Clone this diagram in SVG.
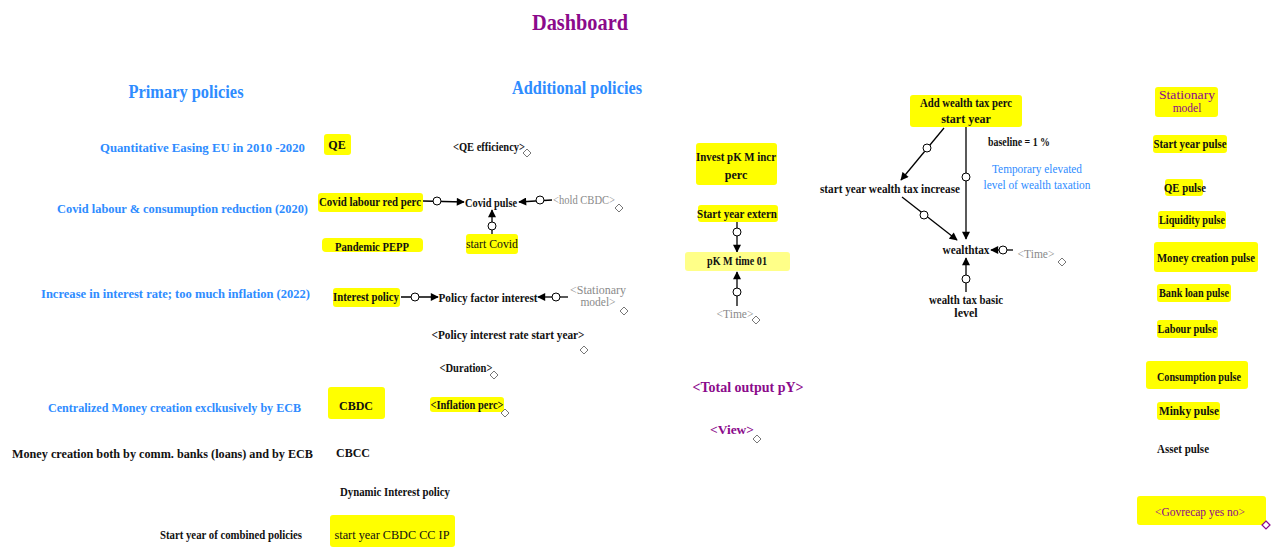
<svg xmlns="http://www.w3.org/2000/svg" xmlns:xlink="http://www.w3.org/1999/xlink" width="1275" height="547" viewBox="0 0 1275 547" font-family="'Liberation Serif', 'Times New Roman', serif">
  <style>
    text { font-family: "Liberation Serif", "Times New Roman", serif; }
    .t { font-size: 12px; font-weight: bold; fill: #111; }
    .tn { font-size: 12px; fill: #111; }
    .g { font-size: 11.5px; fill: #8a8a8a; }
    .blue { font-size: 13.5px; font-weight: bold; fill: #2e8cff; text-anchor: end; }
    .head { font-size: 18px; font-weight: bold; fill: #2e8cff; }
    .pur { font-weight: bold; fill: #8b0a8b; }
    .m { text-anchor: middle; }
    .e { text-anchor: end; }
    .box { fill: #ffff00; }
    .lbox { fill: #ffff88; }
    .ln { stroke: #000; stroke-width: 1.3; fill: none; }
    .dot { fill: #fff; stroke: #000; stroke-width: 1; }
    .dia { fill: #fff; stroke: #777; stroke-width: 1; }
  </style>
  <defs>
    <marker id="arr" viewBox="0 0 10 10" refX="9" refY="5" markerWidth="9" markerHeight="8" markerUnits="userSpaceOnUse" orient="auto">
      <path d="M0,0 L10,5 L0,10 Z" fill="#000"/>
    </marker>
    <path id="dia" d="M0,-4 L4,0 L0,4 L-4,0 Z"/>
  </defs>

  <rect width="1275" height="547" fill="#fff"/>

  <!-- headings -->
  <g id="titles">
    <text x="580" y="30" class="pur m" font-size="23" textLength="96" lengthAdjust="spacingAndGlyphs">Dashboard</text>
    <text x="186" y="98" class="head m" textLength="115" lengthAdjust="spacingAndGlyphs">Primary policies</text>
    <text x="577" y="94" class="head m" textLength="130" lengthAdjust="spacingAndGlyphs">Additional policies</text>
  </g>

  <!-- policy descriptions (right-aligned against the switch column) -->
  <g id="policy-labels">
    <text x="305" y="152" class="blue" textLength="205" lengthAdjust="spacingAndGlyphs">Quantitative Easing EU in 2010  -2020</text>
    <text x="308" y="213" class="blue" textLength="251" lengthAdjust="spacingAndGlyphs">Covid labour &amp; consumuption reduction (2020)</text>
    <text x="310" y="298" class="blue" textLength="269" lengthAdjust="spacingAndGlyphs">Increase in interest rate; too much inflation (2022)</text>
    <text x="301" y="412" class="blue" textLength="253" lengthAdjust="spacingAndGlyphs">Centralized Money creation exclkusively by ECB</text>
    <text x="313" y="458" class="blue" style="fill:#111;font-size:12px" textLength="301" lengthAdjust="spacingAndGlyphs">Money creation both by comm. banks (loans) and by ECB</text>
    <text x="302" y="539" class="t e" textLength="142" lengthAdjust="spacingAndGlyphs">Start year of combined policies</text>
  </g>

  <!-- connectors -->
  <g id="connectors">
    <!-- Covid pulse inputs -->
    <path class="ln" d="M423,201 L464,202" marker-end="url(#arr)"/>
    <circle class="dot" cx="437" cy="201" r="4"/>
    <path class="ln" d="M552,200 L519,202" marker-end="url(#arr)"/>
    <circle class="dot" cx="540" cy="200" r="4"/>
    <path class="ln" d="M492,234 L492,210" marker-end="url(#arr)"/>
    <circle class="dot" cx="492" cy="226" r="4"/>
    <!-- Policy factor interest inputs -->
    <path class="ln" d="M401,297 L438,297" marker-end="url(#arr)"/>
    <circle class="dot" cx="415" cy="297" r="4"/>
    <path class="ln" d="M568,297 L538,297" marker-end="url(#arr)"/>
    <circle class="dot" cx="556" cy="297" r="4"/>
    <!-- pK M time 01 inputs -->
    <path class="ln" d="M737,222 L737,252" marker-end="url(#arr)"/>
    <circle class="dot" cx="737" cy="232" r="4"/>
    <path class="ln" d="M737,306 L737,272" marker-end="url(#arr)"/>
    <circle class="dot" cx="737" cy="292" r="4"/>
    <!-- wealth tax structure -->
    <path class="ln" d="M944,128 L901,180" marker-end="url(#arr)"/>
    <circle class="dot" cx="927" cy="148" r="4"/>
    <path class="ln" d="M966,127 L966,239" marker-end="url(#arr)"/>
    <circle class="dot" cx="966" cy="177" r="4"/>
    <path class="ln" d="M902,197 L957,240" marker-end="url(#arr)"/>
    <circle class="dot" cx="924" cy="215" r="4"/>
    <path class="ln" d="M1013,250 L991,250" marker-end="url(#arr)"/>
    <circle class="dot" cx="1003" cy="250" r="4"/>
    <path class="ln" d="M966,292 L966,258" marker-end="url(#arr)"/>
    <circle class="dot" cx="966" cy="279" r="4"/>
  </g>

  <!-- primary policy switches -->
  <g id="qe">
    <rect class="box" x="324" y="134" width="27" height="21" rx="3"/>
    <text x="337" y="149" class="t m">QE</text>
  </g>
  <g id="qe-efficiency">
    <text x="489" y="151" class="t m" textLength="72" lengthAdjust="spacingAndGlyphs">&lt;QE efficiency&gt;</text>
    <use href="#dia" xlink:href="#dia" class="dia" x="527" y="153"/>
  </g>
  <g id="covid-labour-red-perc">
    <rect class="box" x="318" y="193" width="105" height="19" rx="3"/>
    <text x="370" y="206" class="t m" textLength="102" lengthAdjust="spacingAndGlyphs">Covid labour red perc</text>
  </g>
  <g id="covid-pulse">
    <text x="491" y="207" class="t m" textLength="52" lengthAdjust="spacingAndGlyphs">Covid pulse</text>
  </g>
  <g id="hold-cbdc">
    <text x="584" y="204" class="g m" textLength="62" lengthAdjust="spacingAndGlyphs">&lt;hold CBDC&gt;</text>
    <use href="#dia" xlink:href="#dia" class="dia" x="619" y="208"/>
  </g>
  <g id="start-covid">
    <rect class="box" x="466" y="234" width="52" height="20" rx="3"/>
    <text x="492" y="248" class="tn m" textLength="52" lengthAdjust="spacingAndGlyphs">start Covid</text>
  </g>
  <g id="pandemic-pepp">
    <rect class="box" x="322" y="238" width="101" height="14" rx="4"/>
    <text x="372" y="251" class="t m" textLength="74" lengthAdjust="spacingAndGlyphs">Pandemic PEPP</text>
  </g>
  <g id="interest-policy">
    <rect class="box" x="333" y="288" width="67" height="19" rx="3"/>
    <text x="366" y="301" class="t m" textLength="66" lengthAdjust="spacingAndGlyphs">Interest policy</text>
  </g>
  <g id="policy-factor-interest">
    <text x="488" y="302" class="t m" textLength="99" lengthAdjust="spacingAndGlyphs">Policy factor interest</text>
  </g>
  <g id="stationary-model-ref">
    <text x="598" y="294" class="g m" textLength="56" lengthAdjust="spacingAndGlyphs">&lt;Stationary</text>
    <text x="598" y="306" class="g m">model&gt;</text>
    <use href="#dia" xlink:href="#dia" class="dia" x="624" y="311"/>
  </g>
  <g id="policy-interest-rate-start-year">
    <text x="508" y="339" class="t m" textLength="153" lengthAdjust="spacingAndGlyphs">&lt;Policy interest rate start year&gt;</text>
    <use href="#dia" xlink:href="#dia" class="dia" x="584" y="350"/>
  </g>
  <g id="duration">
    <text x="466" y="372" class="t m" textLength="53" lengthAdjust="spacingAndGlyphs">&lt;Duration&gt;</text>
    <use href="#dia" xlink:href="#dia" class="dia" x="494" y="375"/>
  </g>
  <g id="inflation-perc">
    <rect class="box" x="430" y="397" width="74" height="15" rx="3"/>
    <text x="467" y="409" class="t m" textLength="73" lengthAdjust="spacingAndGlyphs">&lt;Inflation perc&gt;</text>
    <use href="#dia" xlink:href="#dia" class="dia" x="505" y="413"/>
  </g>
  <g id="cbdc">
    <rect class="box" x="328" y="387" width="57" height="32" rx="3"/>
    <text x="356" y="410" class="t m">CBDC</text>
  </g>
  <g id="cbcc">
    <text x="353" y="457" class="t m">CBCC</text>
  </g>
  <g id="dynamic-interest-policy">
    <text x="395" y="496" class="t m" textLength="110" lengthAdjust="spacingAndGlyphs">Dynamic Interest policy</text>
  </g>
  <g id="start-year-cbdc-cc-ip">
    <rect class="box" x="330" y="515" width="125" height="32" rx="3"/>
    <text x="392" y="539" class="tn m" textLength="115" lengthAdjust="spacingAndGlyphs">start year CBDC CC IP</text>
  </g>

  <!-- investment block -->
  <g id="invest-pkm-incr-perc">
    <rect class="box" x="696" y="143" width="81" height="42" rx="3"/>
    <text x="736" y="161" class="t m" textLength="80" lengthAdjust="spacingAndGlyphs">Invest pK M incr</text>
    <text x="736" y="179" class="t m">perc</text>
  </g>
  <g id="start-year-extern">
    <rect class="box" x="698" y="205" width="80" height="17" rx="3"/>
    <text x="737" y="218" class="t m" textLength="80" lengthAdjust="spacingAndGlyphs">Start year extern</text>
  </g>
  <g id="pkm-time-01">
    <rect class="lbox" x="685" y="252" width="105" height="19" rx="3"/>
    <text x="737" y="265" class="t m" textLength="60" lengthAdjust="spacingAndGlyphs">pK M time 01</text>
  </g>
  <g id="time-1">
    <text x="735" y="318" class="g m">&lt;Time&gt;</text>
    <use href="#dia" xlink:href="#dia" class="dia" x="756" y="320"/>
  </g>
  <g id="total-output-py">
    <text x="748" y="392" class="pur m" font-size="15" textLength="111" lengthAdjust="spacingAndGlyphs">&lt;Total output pY&gt;</text>
  </g>
  <g id="view">
    <text x="732" y="434" class="pur m" font-size="13" textLength="44" lengthAdjust="spacingAndGlyphs">&lt;View&gt;</text>
    <use href="#dia" xlink:href="#dia" class="dia" x="757" y="439"/>
  </g>

  <!-- wealth tax block -->
  <g id="add-wealth-tax-perc-start-year">
    <rect class="box" x="910" y="95" width="112" height="32" rx="3"/>
    <text x="966" y="107" class="t m" textLength="92" lengthAdjust="spacingAndGlyphs">Add wealth tax perc</text>
    <text x="966" y="123" class="t m">start year</text>
  </g>
  <g id="baseline-note">
    <text x="1019" y="146" class="t m" textLength="62" lengthAdjust="spacingAndGlyphs">baseline = 1 %</text>
  </g>
  <g id="temporary-note">
    <text x="1037" y="173" class="tn m" style="fill:#2e8cff" textLength="90" lengthAdjust="spacingAndGlyphs">Temporary elevated</text>
    <text x="1037" y="189" class="tn m" style="fill:#2e8cff" textLength="107" lengthAdjust="spacingAndGlyphs">level of wealth taxation</text>
  </g>
  <g id="start-year-wealth-tax-increase">
    <text x="890" y="193" class="t m" textLength="140" lengthAdjust="spacingAndGlyphs">start year wealth tax increase</text>
  </g>
  <g id="wealthtax">
    <text x="966" y="254" class="t m" textLength="47" lengthAdjust="spacingAndGlyphs">wealthtax</text>
  </g>
  <g id="time-2">
    <text x="1036" y="258" class="g m">&lt;Time&gt;</text>
    <use href="#dia" xlink:href="#dia" class="dia" x="1062" y="262"/>
  </g>
  <g id="wealth-tax-basic-level">
    <text x="966" y="304" class="t m" textLength="74" lengthAdjust="spacingAndGlyphs">wealth tax basic</text>
    <text x="966" y="317" class="t m">level</text>
  </g>

  <!-- pulse switches -->
  <g id="stationary-model">
    <rect class="box" x="1155" y="87" width="63" height="30" rx="3"/>
    <text x="1187" y="99" class="m" font-size="11.5" fill="#8b0a8b" textLength="56" lengthAdjust="spacingAndGlyphs">Stationary</text>
    <text x="1187" y="112" class="m" font-size="11.5" fill="#8b0a8b">model</text>
  </g>
  <g id="start-year-pulse">
    <rect class="box" x="1153" y="135" width="74" height="18" rx="3"/>
    <text x="1190" y="148" class="t m" textLength="73" lengthAdjust="spacingAndGlyphs">Start year pulse</text>
  </g>
  <g id="qe-pulse">
    <rect class="box" x="1165" y="179" width="38" height="17" rx="3"/>
    <text x="1185" y="192" class="t m" textLength="42" lengthAdjust="spacingAndGlyphs">QE pulse</text>
  </g>
  <g id="liquidity-pulse">
    <rect class="box" x="1158" y="211" width="68" height="18" rx="3"/>
    <text x="1192" y="224" class="t m" textLength="66" lengthAdjust="spacingAndGlyphs">Liquidity pulse</text>
  </g>
  <g id="money-creation-pulse">
    <rect class="box" x="1154" y="242" width="104" height="30" rx="3"/>
    <text x="1206" y="262" class="t m" textLength="98" lengthAdjust="spacingAndGlyphs">Money creation pulse</text>
  </g>
  <g id="bank-loan-pulse">
    <rect class="box" x="1157" y="284" width="74" height="18" rx="3"/>
    <text x="1194" y="297" class="t m" textLength="70" lengthAdjust="spacingAndGlyphs">Bank loan pulse</text>
  </g>
  <g id="labour-pulse">
    <rect class="box" x="1157" y="320" width="61" height="18" rx="3"/>
    <text x="1187" y="333" class="t m" textLength="59" lengthAdjust="spacingAndGlyphs">Labour pulse</text>
  </g>
  <g id="consumption-pulse">
    <rect class="box" x="1146" y="361" width="102" height="28" rx="3"/>
    <text x="1199" y="381" class="t m" textLength="84" lengthAdjust="spacingAndGlyphs">Consumption pulse</text>
  </g>
  <g id="minky-pulse">
    <rect class="box" x="1157" y="402" width="63" height="18" rx="3"/>
    <text x="1189" y="415" class="t m" textLength="60" lengthAdjust="spacingAndGlyphs">Minky pulse</text>
  </g>
  <g id="asset-pulse">
    <text x="1183" y="453" class="t m" textLength="52" lengthAdjust="spacingAndGlyphs">Asset pulse</text>
  </g>
  <g id="govrecap-yes-no">
    <rect class="box" x="1137" y="496" width="129" height="29" rx="3"/>
    <text x="1200" y="516" class="m" font-size="12" fill="#8b0a8b" textLength="90" lengthAdjust="spacingAndGlyphs">&lt;Govrecap yes no&gt;</text>
    <use href="#dia" xlink:href="#dia" x="1266" y="525" fill="#fff" stroke="#8b0a8b" stroke-width="1.2"/>
  </g>
</svg>
